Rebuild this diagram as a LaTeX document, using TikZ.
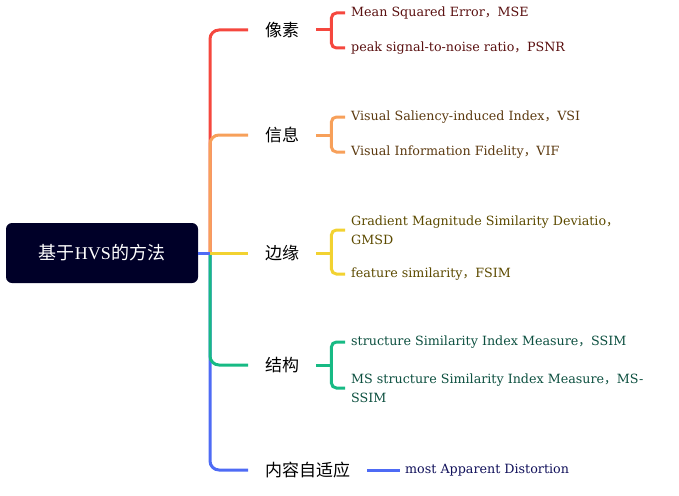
\documentclass[tikz,border=0pt]{standalone}
\usepackage{fontspec}
\setmainfont{DejaVu Serif}
\newfontfamily\cjk{Noto Sans CJK SC}
\newfontfamily\hvsfont{Liberation Serif}
\usepackage{tikz}
\usetikzlibrary{positioning, calc}

\definecolor{rootbg}{HTML}{000028}
\definecolor{lnred}{HTML}{F5473E}
\definecolor{lnorange}{HTML}{F7A05A}
\definecolor{lnyellow}{HTML}{F2D231}
\definecolor{lngreen}{HTML}{17BA84}
\definecolor{lnblue}{HTML}{4E6BF5}
\definecolor{txred}{HTML}{5A1010}
\definecolor{txorange}{HTML}{5C3A10}
\definecolor{txyellow}{HTML}{5C4A00}
\definecolor{txgreen}{HTML}{0D5040}
\definecolor{txblue}{HTML}{10105A}

\begin{document}
\begin{tikzpicture}[x=1pt, y=-1pt,
    root/.style={fill=rootbg, rounded corners=6pt, minimum width=192pt, minimum height=60pt, text=white, font=\fontsize{18}{20}\selectfont},
    branch/.style={anchor=west, font=\cjk\fontsize{17}{20}\selectfont, inner xsep=17pt, inner ysep=2pt},
    leaf/.style={anchor=west, font=\fontsize{12.7}{19}\selectfont, align=left, inner xsep=6pt, inner ysep=1pt},
    link/.style={line width=3pt},
    fork/.style={line width=3pt, rounded corners=5pt},
    trunkline/.style={line width=3pt, rounded corners=9pt}]
    \useasboundingbox (0,0) rectangle (679,495);

    % Root
    \node[root] (hvs) at (102,253) {{\cjk 基于}{\hvsfont HVS}{\cjk 的方法}};
    \coordinate (trunk) at (210,253);

    % Branches
    \node[branch] (pix) at (248,30) {像素};
    \node[branch] (info) at (248,135) {信息};
    \node[branch] (edge) at (248,253) {边缘};
    \node[branch] (struct) at (248,365) {结构};
    \node[branch] (adapt) at (248,470) {内容自适应};

    % Leaves
    \node[leaf, text=txred] (mse) at (345,13) {Mean Squared Error{\cjk ，}MSE};
    \node[leaf, text=txred] (psnr) at (345,48) {peak signal-to-noise ratio{\cjk ，}PSNR};
    \node[leaf, text=txorange] (vsi) at (345,117) {Visual Saliency-induced Index{\cjk ，}VSI};
    \node[leaf, text=txorange] (vif) at (345,152) {Visual Information Fidelity{\cjk ，}VIF};
    \node[leaf, text=txyellow] (gmsd) at (345,230) {Gradient Magnitude Similarity Deviatio{\cjk ，}\\GMSD};
    \node[leaf, text=txyellow] (fsim) at (345,274) {feature similarity{\cjk ，}FSIM};
    \node[leaf, text=txgreen] (ssim) at (345,342) {structure Similarity Index Measure{\cjk ，}SSIM};
    \node[leaf, text=txgreen] (msssim) at (345,388) {MS structure Similarity Index Measure{\cjk ，}MS-\\SSIM};
    \node[leaf, text=txblue, inner xsep=5pt] (mad) at (400,470) {most Apparent Distortion};

    % Trunk lines
    \draw[trunkline, lnblue] (trunk) |- (adapt.west);
    \draw[trunkline, lngreen] (trunk) |- (struct.west);
    \draw[trunkline, lnred] (trunk) |- (pix.west);
    \draw[trunkline, lnorange] (trunk) |- (info.west);
    \draw[link, lnblue] (hvs.east) -- (trunk);
    \draw[link, lnyellow] (trunk) -- (edge.west);

    % Forks to leaves
    \draw[link, lnred] (pix.east) -- ++(15,0) coordinate (pixb);
    \draw[fork, lnred] (pixb) |- (mse.west) (pixb) |- (psnr.west);
    \draw[link, lnorange] (info.east) -- ++(15,0) coordinate (infob);
    \draw[fork, lnorange] (infob) |- (vsi.west) (infob) |- (vif.west);
    \draw[link, lnyellow] (edge.east) -- ++(15,0) coordinate (edgeb);
    \draw[fork, lnyellow] (edgeb) |- (gmsd.west) (edgeb) |- (fsim.west);
    \draw[link, lngreen] (struct.east) -- ++(15,0) coordinate (structb);
    \draw[fork, lngreen] (structb) |- (ssim.west) (structb) |- (msssim.west);
    \draw[link, lnblue] (adapt.east) -- (mad.west);
\end{tikzpicture}
\end{document}
